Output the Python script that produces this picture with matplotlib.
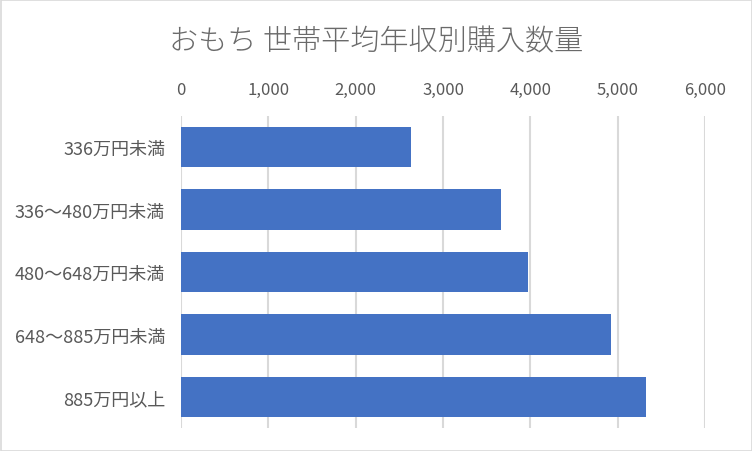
import matplotlib
matplotlib.use("Agg")
import matplotlib.pyplot as plt
from matplotlib.patches import Rectangle

plt.rcParams['font.family'] = ['Noto Sans CJK JP', 'DejaVu Sans']

categories = ["336万円未満", "336～480万円未満", "480～648万円未満", "648～885万円未満", "885万円以上"]
values = [2636, 3668, 3978, 4919, 5320]
ticks = [0, 1000, 2000, 3000, 4000, 5000, 6000]
title = "おもち 世帯平均年収別購入数量"

fig = plt.figure(figsize=(7.52, 4.52), dpi=100)
ax = fig.add_axes([181 / 752, 1 - 429 / 452, (705 - 181) / 752, (429 - 117) / 452])

ypos = list(range(len(categories)))
ax.barh(ypos, values, height=0.65, color="#4472C4", zorder=3)
ax.set_ylim(len(categories) - 0.5, -0.5)
ax.set_xlim(0, 6000)
ax.set_yticks(ypos)
ax.set_yticklabels(categories)
ax.set_xticks(ticks)
ax.set_xticklabels([f"{t:,}" for t in ticks])
ax.xaxis.tick_top()
ax.tick_params(axis="both", length=0, colors="#595959")
ax.tick_params(axis="y", pad=11.5, labelsize=13)
ax.tick_params(axis="x", pad=13, labelsize=12)
ax.grid(axis="x", color="#d9d9d9", linewidth=1.5, zorder=0)
for s in ax.spines.values():
    s.set_visible(False)

fig.text(376 / 752, 1 - 42 / 452, title, ha="center", va="center", fontsize=21,
         color="#6a6a6a", fontweight="light")
fig.patches.append(Rectangle((0.5 / 752, 0.5 / 452), 1 - 1 / 752, 1 - 1 / 452, transform=fig.transFigure,
                             fill=False, edgecolor="#d9d9d9", linewidth=1.2))

fig.savefig("out.png", dpi=100)
